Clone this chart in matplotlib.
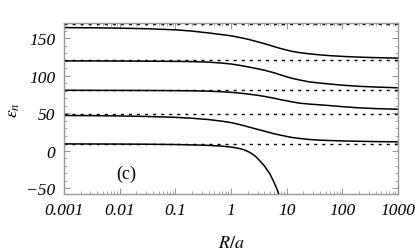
import matplotlib
matplotlib.use("Agg")
from matplotlib import pyplot as plt
from matplotlib.ticker import LogLocator, MultipleLocator, FixedFormatter, FixedLocator

# values
r_grid = [0.001, 0.003, 0.01, 0.03, 0.1, 0.2, 0.4, 0.7, 1, 1.5, 2, 3, 4, 6, 8,
          12, 17, 25, 40, 60, 100, 200, 400, 1000]
eps_1 = [164.5, 164.2, 163.7, 163, 161.5, 159.8, 157.3, 155, 153.5, 151, 149, 145.5,
         143, 139, 136.3, 133, 131, 129.5, 128, 127, 126, 125, 124.3, 123.7]
eps_2 = [120, 119.9, 119.8, 119.6, 119.3, 119, 118.3, 117, 115.8, 113.8, 112, 109.5,
         107.5, 104, 101, 97, 94.5, 92, 90.3, 89, 87.5, 86, 85, 84]
eps_3 = [80.7, 80.6, 80.5, 80.4, 80.2, 80, 79.5, 78.7, 78, 76.8, 75.7, 74,
         72.5, 70, 68, 65.5, 63.5, 62.3, 61.2, 60.2, 58.8, 57.2, 56.2, 55.3]
eps_4 = [47, 46.8, 46.4, 45.7, 44.5, 43.3, 41.5, 39.3, 37.5, 34.5, 32, 28.5,
         26, 22.5, 20.5, 17.8, 16.3, 15, 14, 13.5, 13, 12.5, 12.1, 11.8]

r_low = [0.001, 0.01, 0.03, 0.1, 0.2, 0.4, 0.7, 1, 1.3, 1.7, 2.2, 2.7, 3.2, 4, 5, 6, 7, 7.5]
eps_5 = [9, 8.8, 8.6, 8.2, 7.7, 7, 6, 4.8, 3.5, 1.3, -2.5, -7, -12.5, -20.5, -31, -43, -55, -62]

dashed_levels = [9, 49, 81, 121, 169]

xticks = [0.001, 0.01, 0.1, 1, 10, 100, 1000]
xtick_labels = ['0.001', '0.01', '0.1', '1', '10', '100', '1000']

plt.rcParams['mathtext.fontset'] = 'stix'
plt.rcParams['font.family'] = 'Liberation Serif'

fig = plt.figure(figsize=(4.15, 2.51), dpi=100)
ax = fig.add_axes([0.154, 0.223, 0.805, 0.681])

for lvl in dashed_levels:
    ax.axhline(lvl, color='black', lw=1.0, linestyle=(0, (2.2, 3.6)))

for eps in [eps_1, eps_2, eps_3, eps_4]:
    ax.plot(r_grid, eps, color='black', lw=1.1)
ax.plot(r_low, eps_5, color='black', lw=1.1)

ax.set_xscale('log')
ax.set_xlim(0.001, 1000)
ax.set_ylim(-58, 170.5)

ax.xaxis.set_major_locator(FixedLocator(xticks))
ax.xaxis.set_major_formatter(FixedFormatter(xtick_labels))
ax.xaxis.set_minor_locator(LogLocator(base=10, subs=range(2, 10), numticks=20))
ax.yaxis.set_major_locator(MultipleLocator(50))
ax.yaxis.set_minor_locator(MultipleLocator(10))

for s in ax.spines.values():
    s.set_color('#999999')
    s.set_linewidth(1.0)

ax.tick_params(which='both', direction='in', top=True, right=True, color='#999999',
               labelsize=12.5, pad=6)
ax.tick_params(which='major', length=4, width=0.8)
ax.tick_params(which='minor', length=2, width=0.6)
for lab in ax.get_xticklabels() + ax.get_yticklabels():
    lab.set_fontstyle('italic')

ax.set_xlabel(r'$R/a$', fontsize=13)
ax.set_ylabel(r'$\epsilon_n$', fontsize=13)
ax.xaxis.set_label_coords(0.5, -0.235)
ax.yaxis.set_label_coords(-0.125, 0.5)

ax.text(0.013, -31, '(c)', fontsize=13, ha='center', va='center')

fig.savefig('out.png', dpi=100)
